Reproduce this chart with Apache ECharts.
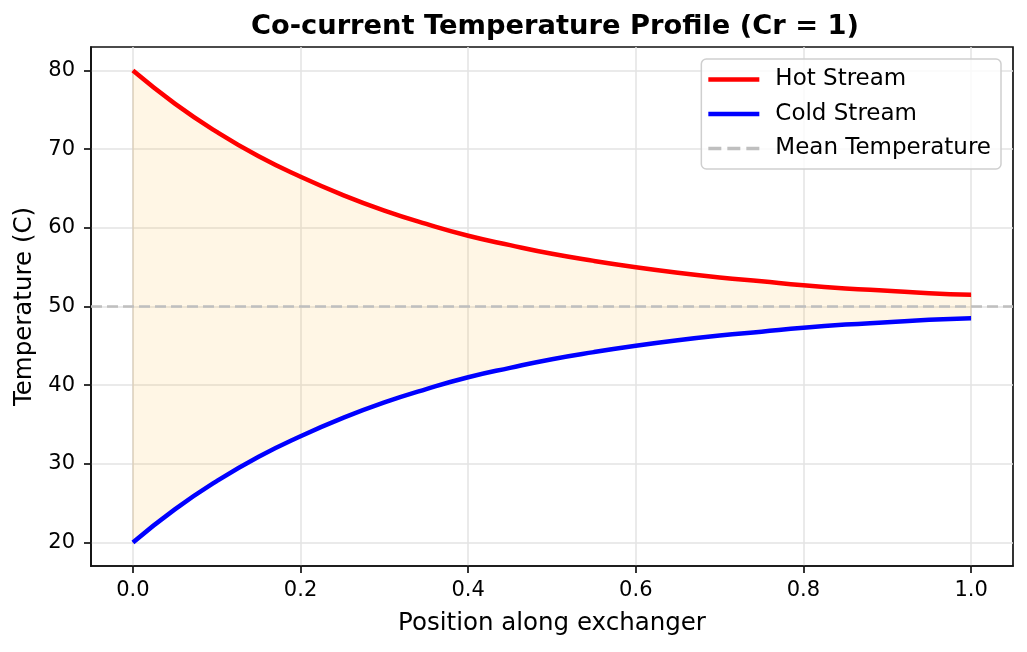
<!DOCTYPE html>
<html lang="en">
<head>
    <meta charset="UTF-8">
    <title>Co-current Temperature Profile</title>
    <script src="https://cdn.jsdelivr.net/npm/echarts@6/dist/echarts.min.js" type="text/javascript"></script>
    <style>
        html, body { margin: 0; padding: 0; background: #fff; }
    </style>
</head>
<body>
<div id="profile" style="width: 1027px;height:652px;"></div>
</body>

<script type="text/javascript">
    // values
    var positions = [0, 0.05, 0.1, 0.15, 0.2, 0.25, 0.3, 0.35, 0.4, 0.45, 0.5,
        0.55, 0.6, 0.65, 0.7, 0.75, 0.8, 0.85, 0.9, 0.95, 1.0];
    var hotTemps = [80, 75.8, 72.2, 69.1, 66.5, 64.2, 62.2, 60.5, 59.0, 57.8, 56.7,
        55.8, 55.0, 54.3, 53.7, 53.2, 52.7, 52.3, 52.0, 51.7, 51.5];
    var coldTemps = [20, 24.2, 27.8, 30.9, 33.5, 35.8, 37.8, 39.5, 41.0, 42.2, 43.3,
        44.2, 45.0, 45.7, 46.3, 46.8, 47.3, 47.7, 48.0, 48.3, 48.5];
    var meanTemp = 50;
    var xTicks = [0, 0.2, 0.4, 0.6, 0.8, 1.0];
    var yTicks = [20, 30, 40, 50, 60, 70, 80];

    function pairs(ys) {
        return positions.map(function (x, i) { return [x, ys[i]]; });
    }

    var chart = echarts.init(document.getElementById('profile'));
    var font = 'DejaVu Sans';
    var solidIcon = 'path://M0,0H51V4.5H0Z';
    var dashIcon = 'path://M0,0H13V3.4H0Z M19,0H32V3.4H19Z M38,0H51V3.4H38Z';

    chart.setOption({
        animation: false,
        textStyle: { fontFamily: font },
        title: {
            text: 'Co-current Temperature Profile (Cr = 1)',
            left: 550,
            top: 8,
            textAlign: 'center',
            textStyle: { fontSize: 27.3, fontWeight: 'bold', color: '#000', fontFamily: font }
        },
        legend: {
            right: 26,
            top: 59,
            orient: 'vertical',
            itemWidth: 51,
            itemHeight: 5,
            itemGap: 11.5,
            padding: [9, 10, 9, 7],
            borderColor: '#cfcfcf',
            borderWidth: 1.5,
            borderRadius: 5,
            backgroundColor: 'rgba(255,255,255,0.8)',
            textStyle: { fontSize: 23, lineHeight: 23, color: '#000', fontFamily: font, padding: [0, 0, 0, 11] },
            data: [
                { name: 'Hot Stream', icon: solidIcon },
                { name: 'Cold Stream', icon: solidIcon },
                { name: 'Mean Temperature', icon: dashIcon }
            ]
        },
        grid: {
            left: 91, right: 14, top: 47, bottom: 86,
            show: true, borderColor: '#111', borderWidth: 1.7
        },
        xAxis: {
            type: 'value',
            min: -0.05,
            max: 1.05,
            name: 'Position along exchanger',
            nameLocation: 'middle',
            nameGap: 45,
            nameTextStyle: { fontSize: 24.5, color: '#000' },
            axisLine: { show: true, onZero: false, lineStyle: { color: '#111', width: 1.7 } },
            axisTick: { show: true, length: 7, customValues: xTicks, lineStyle: { color: '#111', width: 1.7 } },
            axisLabel: {
                customValues: xTicks, fontSize: 21, color: '#000', margin: 14,
                formatter: function (v) { return v.toFixed(1); }
            },
            splitLine: { show: true, lineStyle: { color: '#e3e3e3', width: 1.5 } }
        },
        yAxis: {
            type: 'value',
            min: 17,
            max: 83,
            name: 'Temperature (C)',
            nameLocation: 'middle',
            nameGap: 53,
            nameTextStyle: { fontSize: 24.5, color: '#000' },
            axisLine: { show: true, onZero: false, lineStyle: { color: '#111', width: 1.7 } },
            axisTick: { show: true, length: 7, customValues: yTicks, lineStyle: { color: '#111', width: 1.7 } },
            axisLabel: { customValues: yTicks, fontSize: 21, color: '#000', margin: 16 },
            splitLine: { show: true, lineStyle: { color: '#e3e3e3', width: 1.5 } }
        },
        series: [
            {
                type: 'custom',
                name: 'fill',
                silent: true,
                z: 1,
                data: [0],
                renderItem: function (params, api) {
                    var pts = [];
                    for (var i = 0; i < positions.length; i++) {
                        pts.push(api.coord([positions[i], hotTemps[i]]));
                    }
                    for (var j = positions.length - 1; j >= 0; j--) {
                        pts.push(api.coord([positions[j], coldTemps[j]]));
                    }
                    return {
                        type: 'polygon',
                        shape: { points: pts, smooth: 0 },
                        style: { fill: 'rgba(255,165,0,0.1)', stroke: 'rgba(190,160,110,0.25)', lineWidth: 1.5 }
                    };
                }
            },
            {
                name: 'Mean Temperature',
                type: 'line',
                symbol: 'none',
                z: 2,
                data: [[-0.05, meanTemp], [1.05, meanTemp]],
                lineStyle: { color: '#bfbfbf', width: 2.5, type: [11, 5] },
                itemStyle: { color: '#bfbfbf' }
            },
            {
                name: 'Hot Stream',
                type: 'line',
                symbol: 'none',
                smooth: true,
                z: 3,
                data: pairs(hotTemps),
                lineStyle: { color: '#ff0000', width: 4.5 },
                itemStyle: { color: '#ff0000' }
            },
            {
                name: 'Cold Stream',
                type: 'line',
                symbol: 'none',
                smooth: true,
                z: 3,
                data: pairs(coldTemps),
                lineStyle: { color: '#0000ff', width: 4.5 },
                itemStyle: { color: '#0000ff' }
            }
        ]
    });
</script>
</html>
